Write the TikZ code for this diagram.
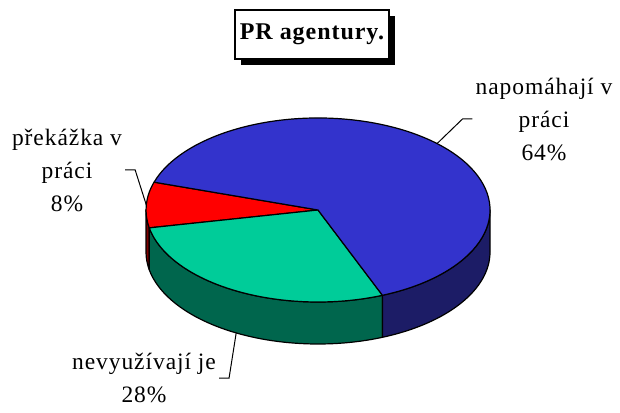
\documentclass[tikz,border=0pt]{standalone}
\usepackage{fontspec}
\setmainfont{Liberation Serif}
\usepackage{xcolor}
\usetikzlibrary{shadows}

\definecolor{topblue}{RGB}{51,51,204}
\definecolor{sideblue}{RGB}{28,28,102}
\definecolor{topgreen}{RGB}{0,204,153}
\definecolor{sidegreen}{RGB}{0,102,77}
\definecolor{topred}{RGB}{255,0,0}
\definecolor{sidered}{RGB}{128,0,0}

\newcommand{\lblfont}{\addfontfeature{LetterSpace=4}\fontsize{23.5}{33}\selectfont}
\newcommand{\ttlfont}{\addfontfeature{LetterSpace=4}\fontsize{24}{28}\selectfont\bfseries}

\begin{document}
\begin{tikzpicture}[x=1pt,y=1pt,
        rad/.style={x radius=172,y radius=92},
        slice/.style={draw=black,line width=1.2pt,line join=round},
        lbl/.style={align=center,font=\lblfont,inner sep=3pt},
        leader/.style={draw=black,line width=1pt}]
    \useasboundingbox (0,0) rectangle (620,412);
    \coordinate (c) at (318,202);

    % sides
    \path [slice,fill=sidered] ([shift={(180:172 and 92)}]c) arc[rad,start angle=180,end angle=191.2]
        -- ++(0,-42) arc[rad,start angle=191.2,end angle=180] -- cycle;
    \path [slice,fill=sidegreen] ([shift={(191.2:172 and 92)}]c) arc[rad,start angle=191.2,end angle=292]
        -- ++(0,-42) arc[rad,start angle=292,end angle=191.2] -- cycle;
    \path [slice,fill=sideblue] ([shift={(292:172 and 92)}]c) arc[rad,start angle=292,end angle=360]
        -- ++(0,-42) arc[rad,start angle=360,end angle=292] -- cycle;

    % top
    \path [slice,fill=topred] (c) -- ([shift={(162.4:172 and 92)}]c) arc[rad,start angle=162.4,end angle=191.2] -- cycle;
    \path [slice,fill=topgreen] (c) -- ([shift={(191.2:172 and 92)}]c) arc[rad,start angle=191.2,end angle=292] -- cycle;
    \path [slice,fill=topblue] (c) -- ([shift={(292:172 and 92)}]c) arc[rad,start angle=292,end angle=522.4] -- cycle;

    \coordinate (blue-tip) at ([shift={(46.2:172 and 92)}]c);
    \coordinate (red-tip) at ([shift={(176.8:172 and 92)}]c);
    \coordinate (green-tip) at ([shift={(241.6:172 and 92)}]c);
    \coordinate (green-tipb) at ([yshift=-42]green-tip);

    \node [draw=black,line width=1.4pt,fill=white,minimum width=154,minimum height=49,inner sep=0pt,
        font=\ttlfont,drop shadow={shadow xshift=6pt,shadow yshift=-6pt,fill=black,opacity=1}]
        (title) at (312,377.5) {PR agentury.};

    \node [lbl] (blue-lbl) at (544,293) {napomáhají v\\práci\\64\%};
    \node [lbl] (red-lbl) at (67,242) {překážka v\\práci\\8\%};
    \node [lbl] (green-lbl) at (144,34) {nevyužívají je\\28\%};

    \draw [leader] (blue-lbl.west) -- ++(-10,0) -- (blue-tip);
    \draw [leader] (red-lbl.east) -- ++(10,0) -- (red-tip);
    \draw [leader] (green-lbl.east) -- ++(10,0) -- (green-tipb);
\end{tikzpicture}
\end{document}
